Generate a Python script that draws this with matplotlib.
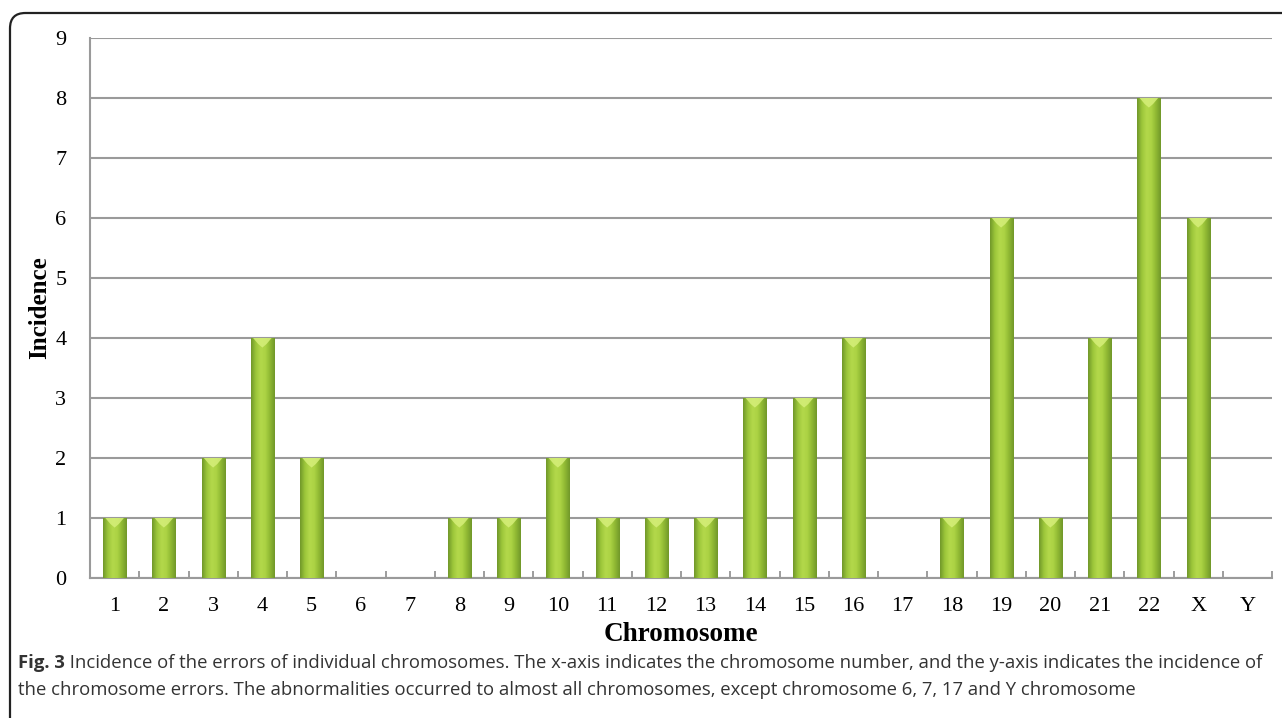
"""Incidence of chromosome errors - bar chart recreation"""

import matplotlib
matplotlib.use("Agg")
import matplotlib.pyplot as plt
import numpy as np
from matplotlib import patches
from matplotlib.colors import LinearSegmentedColormap

# 数据
CHROMOSOMES = [str(i) for i in range(1, 23)] + ["X", "Y"]
INCIDENCE = [1, 1, 2, 4, 2, 0, 0, 1, 1, 2, 1, 1, 1, 3, 3, 4, 0, 1, 6, 1, 4, 8, 6, 0]
Y_TICKS = list(range(0, 10))

CAPTION_BOLD = "Fig. 3"
CAPTION_LINE1 = (" Incidence of the errors of individual chromosomes. The x-axis indicates the chromosome "
                 "number, and the y-axis indicates the incidence of")
CAPTION_LINE2 = ("the chromosome errors. The abnormalities occurred to almost all chromosomes, "
                 "except chromosome 6, 7, 17 and Y chromosome")

SERIF = ["Liberation Serif", "DejaVu Serif"]
CAP_FONT = ["Open Sans", "DejaVu Sans"]

# 圆柱体风格的渐变
bar_cmap = LinearSegmentedColormap.from_list(
    "cyl", ["#71982a", "#9cc63a", "#b3d84b", "#acd344", "#8fb833", "#71982a"]
)

fig = plt.figure(figsize=(12.82, 7.18), dpi=100)
ax = fig.add_axes([90 / 1282, 140 / 718, 1182 / 1282, 540 / 718])

x = np.arange(len(CHROMOSOMES))
bars = ax.bar(x, INCIDENCE, width=0.47, color="#9cc63a", zorder=3, linewidth=0)

grad = np.linspace(0, 1, 64).reshape(1, -1)
for rect in bars:
    h = rect.get_height()
    if h <= 0:
        continue
    x0 = rect.get_x()
    w = rect.get_width()
    im = ax.imshow(grad, cmap=bar_cmap, aspect="auto", extent=(x0, x0 + w, 0, h),
                   zorder=4, interpolation="bilinear")
    im.set_clip_path(rect)
    # 顶部的浅色斜面
    top = patches.Polygon(
        [(x0 + 0.1 * w, h), (x0 + 0.9 * w, h), (x0 + 0.68 * w, h - 0.1),
         (x0 + 0.5 * w, h - 0.16), (x0 + 0.32 * w, h - 0.1)],
        closed=True, facecolor="#d6ef7a", edgecolor="none", zorder=5, alpha=0.85,
    )
    ax.add_patch(top)

ax.set_xlim(-0.5, len(CHROMOSOMES) - 0.5)
ax.set_ylim(0, 9)
ax.set_yticks(Y_TICKS)
ax.set_yticklabels([str(v) for v in Y_TICKS], fontfamily=SERIF, fontsize=16)
ax.set_xticks(x)
ax.set_xticklabels(CHROMOSOMES, fontfamily=SERIF, fontsize=16)
ax.set_xticks(np.arange(-0.5, len(CHROMOSOMES)), minor=True)
ax.tick_params(axis="x", which="major", length=0, pad=14)
ax.tick_params(axis="x", which="minor", direction="in", length=5, color="#8c8c8c", width=1.2)
ax.tick_params(axis="y", length=0, pad=17)

ax.yaxis.grid(True, color="#9a9a9a", linewidth=1.5, zorder=1)
ax.set_axisbelow(True)
for side in ["top", "right"]:
    ax.spines[side].set_visible(False)
for side in ["left", "bottom"]:
    ax.spines[side].set_color("#9a9a9a")
    ax.spines[side].set_linewidth(1.5)

ax.set_xlabel("Chromosome", fontfamily=SERIF, fontsize=19.5, fontweight="bold", labelpad=4)
ax.set_ylabel("Incidence", fontfamily=SERIF, fontsize=18, fontweight="bold", labelpad=3)

# 外框（左上圆角）
frame = patches.FancyBboxPatch(
    (10 / 1282, -20 / 718), 1400 / 1282, 725 / 718,
    boxstyle="round,pad=0,rounding_size=0.012",
    transform=fig.transFigure, fill=False, edgecolor="#222222", linewidth=1.6,
    mutation_aspect=1282 / 718, clip_on=False,
)
fig.patches.append(frame)

# 图注
t1 = fig.text(18 / 1282, 1 - 663 / 718, CAPTION_BOLD, fontfamily=CAP_FONT, fontsize=13.3,
              fontweight="bold", color="#333333", va="center")
fig.canvas.draw()
bb = t1.get_window_extent()
fig.text(bb.x1 / 1282, 1 - 663 / 718, CAPTION_LINE1, fontfamily=CAP_FONT, fontsize=13.3,
         color="#333333", va="center")
fig.text(18 / 1282, 1 - 690 / 718, CAPTION_LINE2, fontfamily=CAP_FONT, fontsize=13.3,
         color="#333333", va="center")

fig.savefig("out.png", dpi=100)
